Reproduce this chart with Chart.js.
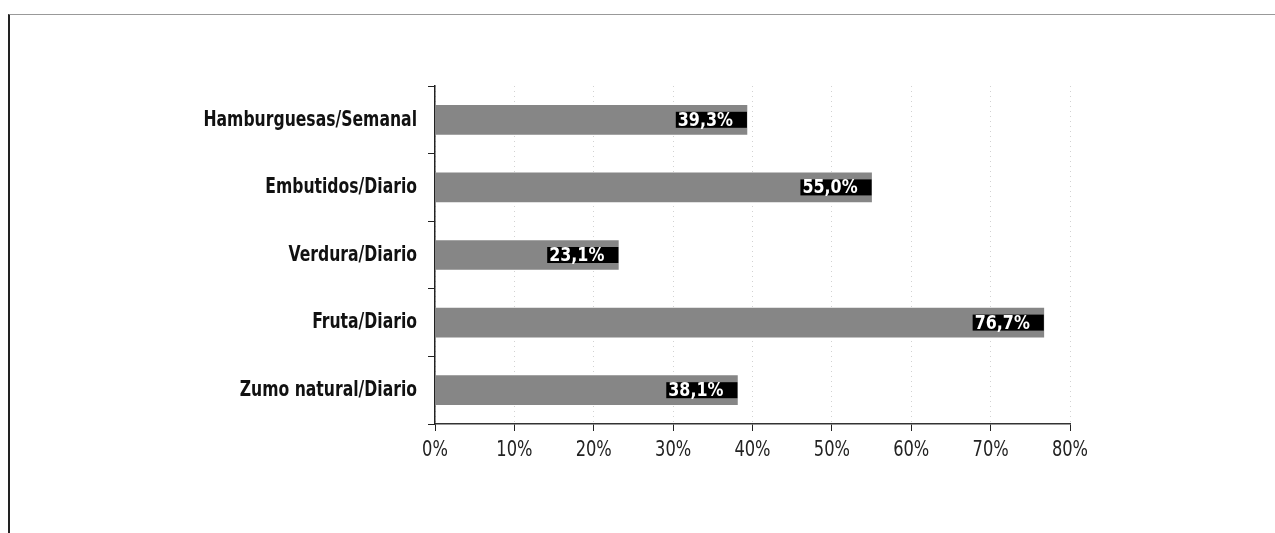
<!DOCTYPE html>
<html>
<head>
<meta charset="utf-8">
<script src="https://cdn.jsdelivr.net/npm/chart.js@4/dist/chart.umd.min.js"></script>
<style>
    body { margin: 0; background: #fff; }
    #wrap { position: relative; width: 1275px; height: 533px; }
    #frame { position: absolute; left: 8px; top: 14px; right: 0; bottom: 0; border-left: 2px solid #222; border-top: 1px solid #999; }
    #chart { position: absolute; left: 0; top: 0; }
</style>
</head>
<body>
<div id="wrap">
    <div id="frame"></div>
    <canvas id="chart" width="1275" height="533"></canvas>
</div>
<script>
// data
const categories = ["Hamburguesas/Semanal", "Embutidos/Diario", "Verdura/Diario", "Fruta/Diario", "Zumo natural/Diario"];
const values = [39.3, 55.0, 23.1, 76.7, 38.1];
const xTicks = [0, 10, 20, 30, 40, 50, 60, 70, 80];

const fontFamily = '"DejaVu Sans Condensed", "Liberation Sans Narrow", sans-serif';

// the original uses a condensed grotesque, so squeeze the text a little
function narrowText(ctx, txt, x, y, align, squeeze) {
    const w = ctx.measureText(txt).width * squeeze;
    let left = x;
    if (align === "right") left = x - w;
    if (align === "center") left = x - w / 2;
    ctx.save();
    ctx.translate(left, y);
    ctx.scale(squeeze, 1);
    ctx.fillText(txt, 0, 0);
    ctx.restore();
    return { left: left, width: w };
}

const textPlugin = {
    id: "textPlugin",
    afterDraw(chart) {
        const ctx = chart.ctx;
        const xs = chart.scales.x;
        const ys = chart.scales.y;
        ctx.save();
        ctx.textBaseline = "middle";

        // category labels
        ctx.fillStyle = "#111";
        ctx.font = "bold 22px " + fontFamily;
        categories.forEach((c, i) => {
            narrowText(ctx, c, ys.right - 18, ys.getPixelForTick(i), "right", 0.79);
        });

        // x tick labels
        ctx.fillStyle = "#222";
        ctx.font = "21px " + fontFamily;
        xTicks.forEach(v => {
            narrowText(ctx, v + "%", xs.getPixelForValue(v), xs.top + 27, "center", 0.86);
        });

        // white value on black strip at the end of each bar
        ctx.font = "bold 19px " + fontFamily;
        chart.getDatasetMeta(0).data.forEach((bar, i) => {
            const txt = values[i].toFixed(1).replace(".", ",") + "%";
            const w = ctx.measureText(txt).width * 0.93;
            const left = bar.x - 14 - w;
            ctx.fillStyle = "#000";
            ctx.fillRect(left - 2, bar.y - 8, bar.x - left + 2, 16);
            ctx.fillStyle = "#fff";
            narrowText(ctx, txt, left, bar.y + 1, "left", 0.93);
        });
        ctx.restore();
    }
};

new Chart(document.getElementById("chart"), {
    type: "bar",
    data: {
        labels: categories,
        datasets: [{
            data: values,
            backgroundColor: "#868686",
            barThickness: 29
        }]
    },
    options: {
        indexAxis: "y",
        responsive: false,
        animation: false,
        layout: { padding: { left: 0, right: 205, top: 86, bottom: 0 } },
        plugins: {
            legend: { display: false },
            tooltip: { enabled: false }
        },
        scales: {
            x: {
                min: 0,
                max: 80,
                afterBuildTicks: s => { s.ticks = xTicks.map(v => ({ value: v })); },
                afterFit: s => { s.height = 109; },
                ticks: { display: false },
                grid: {
                    color: "#d2d2d2",
                    tickColor: "#222",
                    tickLength: 7,
                    lineWidth: 1
                },
                border: { color: "#333", width: 1.5, dash: [1, 4] }
            },
            y: {
                offset: true,
                afterFit: s => { s.width = 435; },
                ticks: { display: false },
                grid: {
                    offset: true,
                    drawOnChartArea: false,
                    tickLength: 7,
                    color: "#222"
                },
                border: { color: "#222", width: 1.5 }
            }
        }
    },
    plugins: [textPlugin]
});
</script>
</body>
</html>
